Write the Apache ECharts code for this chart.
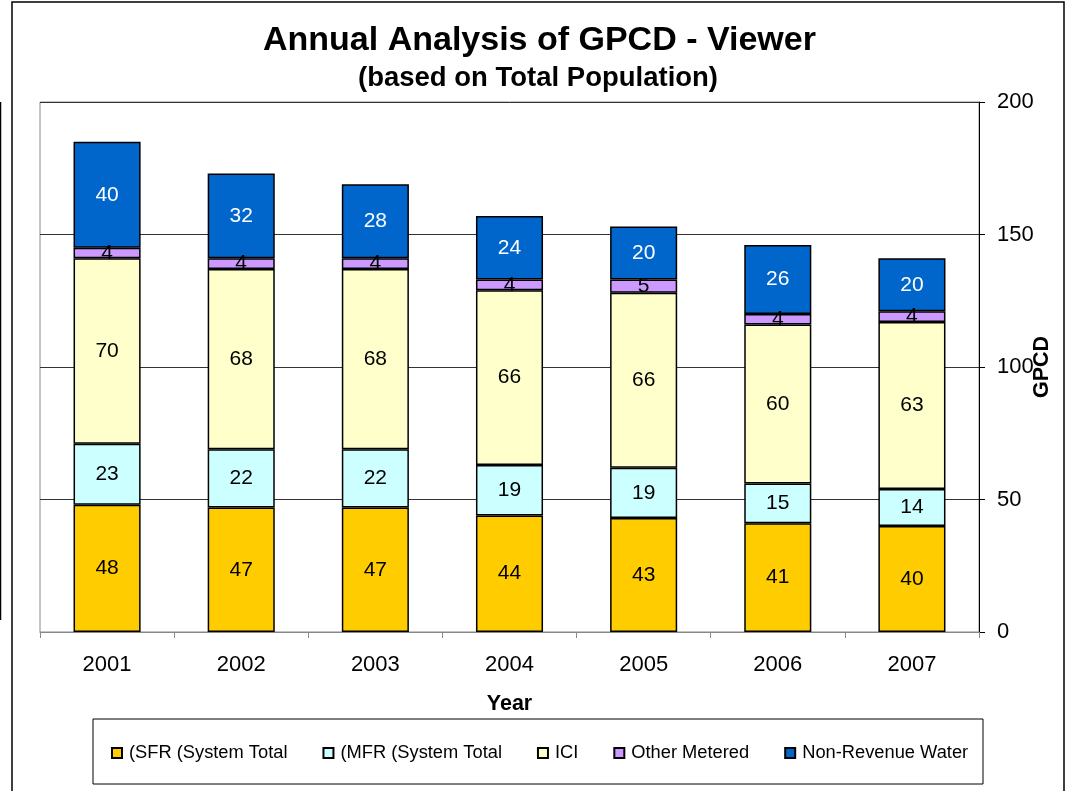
<!DOCTYPE html>
<html>
<head>
<meta charset="utf-8">
<script src="https://cdn.jsdelivr.net/npm/echarts@6/dist/echarts.min.js"></script>
<style>
html,body{margin:0;padding:0;background:#fff;}
#chart{width:1071px;height:791px;}
</style>
</head>
<body>
<div id="chart"></div>
<script>
var years = ['2001','2002','2003','2004','2005','2006','2007'];
var sfr = [48, 47, 47, 44, 43, 41, 40];
var mfr = [23, 22, 22, 19, 19, 15, 14];
var ici = [70, 68, 68, 66, 66, 60, 63];
var otherMetered = [4, 4, 4, 4, 5, 4, 4];
var nonRevenue = [40, 32, 28, 24, 20, 26, 20];
var yTicks = [0, 50, 100, 150, 200];

var seriesNames = ['(SFR (System Total', '(MFR (System Total', 'ICI', 'Other Metered', 'Non-Revenue Water'];
var seriesData = [sfr, mfr, ici, otherMetered, nonRevenue];
var seriesColors = ['#FFCC00', '#CCFFFF', '#FFFFCC', '#CC99FF', '#0066CC'];
var labelColors = ['#000', '#000', '#000', '#000', '#fff'];

var FONT = '"Liberation Sans", Arial, sans-serif';
var chart = echarts.init(document.getElementById('chart'));

var series = seriesNames.map(function (n, i) {
  return {
    name: n,
    type: 'bar',
    stack: 'total',
    barWidth: '50%',
    data: seriesData[i],
    itemStyle: { color: seriesColors[i], borderColor: '#000', borderWidth: 1.5 },
    label: { show: true, position: 'inside', color: labelColors[i], fontSize: 21, fontFamily: FONT },
    emphasis: { disabled: true }
  };
});

chart.setOption({
  animation: false,
  backgroundColor: '#fff',
  textStyle: { fontFamily: FONT },
  title: [
    { text: 'Annual Analysis of GPCD - Viewer', left: 263, top: 24, padding: 0,
      textStyle: { fontSize: 34, fontWeight: 'bold', color: '#000', fontFamily: FONT } },
    { text: '(based on Total Population)', left: 358, top: 64, padding: 0,
      textStyle: { fontSize: 27.5, fontWeight: 'bold', color: '#000', fontFamily: FONT } }
  ],
  grid: { left: 40, top: 102, right: 92, bottom: 159, show: true, borderColor: '#888', borderWidth: 1, backgroundColor: 'transparent' },
  legend: {
    left: 106, top: 739,
    itemWidth: 10, itemHeight: 10, itemGap: 35,
    icon: 'rect',
    textStyle: { fontSize: 18.3, color: '#000', fontFamily: FONT, padding: [0, 0, 0, 2] },
    data: seriesNames
  },
  xAxis: {
    type: 'category',
    data: years,
    axisLine: { lineStyle: { color: '#888', width: 1 } },
    axisTick: { show: true, length: 6, lineStyle: { color: '#888' } },
    axisLabel: { fontSize: 22, color: '#000', margin: 22, fontFamily: FONT },
    name: 'Year', nameLocation: 'middle', nameGap: 61, nameMoveOverlap: false,
    nameTextStyle: { fontSize: 21.5, fontWeight: 'bold', color: '#000', fontFamily: FONT }
  },
  yAxis: {
    type: 'value',
    position: 'right',
    min: yTicks[0], max: yTicks[yTicks.length - 1], interval: 50,
    axisLine: { show: true, lineStyle: { color: '#000', width: 1 } },
    axisTick: { show: true, length: 6, inside: false, lineStyle: { color: '#000' } },
    axisLabel: { fontSize: 22, color: '#000', margin: 18, fontFamily: FONT },
    splitLine: { show: true, lineStyle: { color: '#333', width: 1 } },
    name: 'GPCD', nameLocation: 'middle', nameRotate: 90, nameGap: 52, nameMoveOverlap: false,
    nameTextStyle: { fontSize: 21.5, fontWeight: 'bold', color: '#000', fontFamily: FONT }
  },
  graphic: [
    { type: 'rect', shape: { x: 12, y: 2, width: 1052, height: 800 }, style: { fill: 'none', stroke: '#000', lineWidth: 1.5 }, z: 100 },
    { type: 'rect', shape: { x: 93, y: 719, width: 890, height: 65 }, style: { fill: 'none', stroke: '#000', lineWidth: 1 }, z: 100 },
    { type: 'line', shape: { x1: 0.5, y1: 102, x2: 0.5, y2: 620 }, style: { stroke: '#000', lineWidth: 1.5 }, z: 100 }
  ],
  series: series
});
</script>
</body>
</html>
